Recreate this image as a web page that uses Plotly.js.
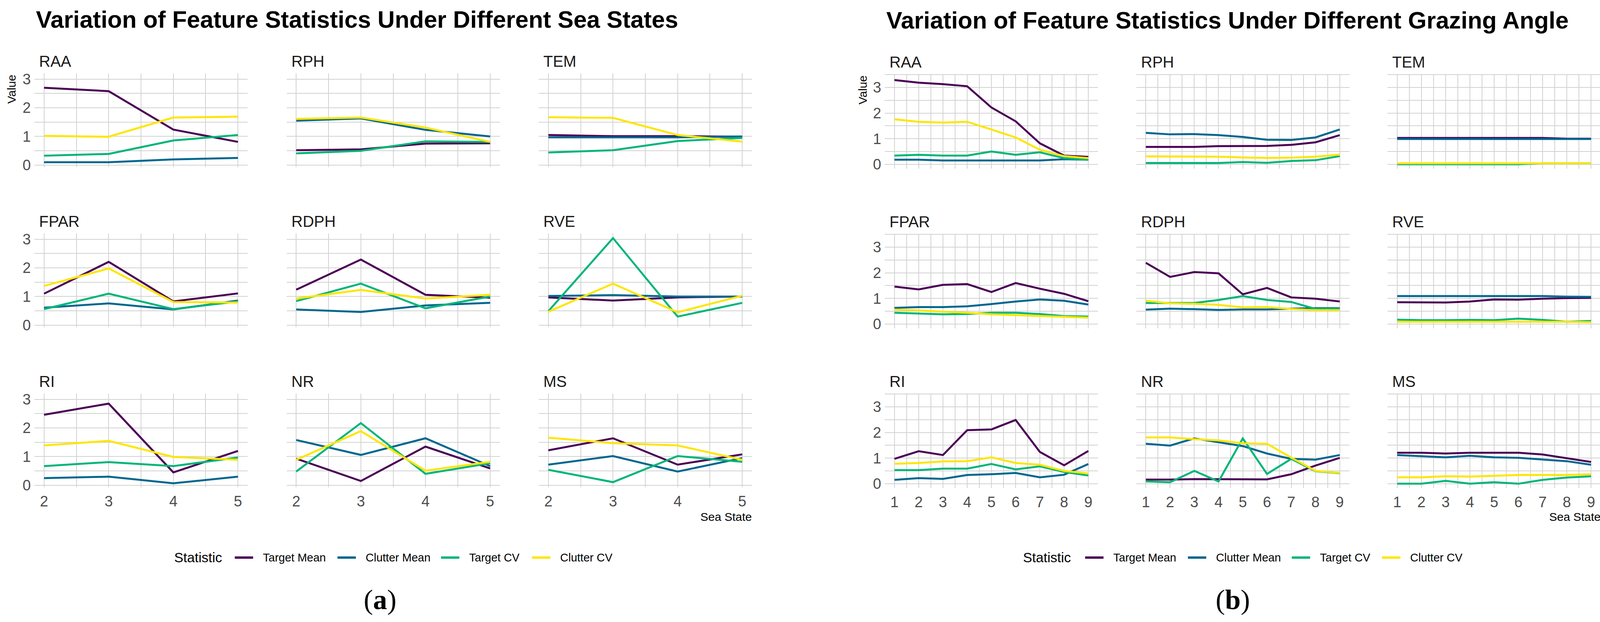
<!DOCTYPE html>
<html>
<head>
<meta charset="utf-8">
<script src="https://cdn.plot.ly/plotly-3.0.1.min.js"></script>
<style>
html,body{margin:0;padding:0;background:#fff;}
#chart{width:4113px;height:1593px;}
</style>
</head>
<body>
<div id="chart"></div>
<script>
// ---------------- DATA ----------------
const seaStates = [2, 3, 4, 5];
const grazingAngles = [1, 2, 3, 4, 5, 6, 7, 8, 9];
const features = ['RAA', 'RPH', 'TEM', 'FPAR', 'RDPH', 'RVE', 'RI', 'NR', 'MS'];
const statistics = ['Target Mean', 'Clutter Mean', 'Target CV', 'Clutter CV'];

// (a) Sea states: rows = Target Mean, Clutter Mean, Target CV, Clutter CV
const seaRAA  = [[2.70, 2.58, 1.24, 0.81], [0.10, 0.10, 0.20, 0.25], [0.33, 0.39, 0.86, 1.05], [1.02, 0.99, 1.66, 1.69]];
const seaRPH  = [[0.52, 0.55, 0.75, 0.76], [1.55, 1.63, 1.23, 1.00], [0.41, 0.50, 0.83, 0.81], [1.61, 1.66, 1.31, 0.81]];
const seaTEM  = [[1.05, 1.01, 1.01, 0.99], [0.97, 0.97, 0.97, 1.00], [0.44, 0.52, 0.84, 0.95], [1.67, 1.65, 1.05, 0.82]];
const seaFPAR = [[1.10, 2.21, 0.83, 1.11], [0.61, 0.76, 0.55, 0.86], [0.56, 1.10, 0.56, 0.83], [1.37, 1.98, 0.81, 0.79]];
const seaRDPH = [[1.24, 2.29, 1.06, 0.96], [0.55, 0.46, 0.69, 0.78], [0.84, 1.45, 0.59, 1.00], [0.93, 1.23, 0.93, 1.06]];
const seaRVE  = [[0.97, 0.86, 0.97, 1.00], [1.02, 1.05, 1.00, 1.00], [0.49, 3.04, 0.30, 0.78], [0.47, 1.45, 0.45, 1.03]];
const seaRI   = [[2.46, 2.85, 0.45, 1.20], [0.25, 0.30, 0.07, 0.30], [0.67, 0.81, 0.67, 0.97], [1.39, 1.55, 0.99, 0.89]];
const seaNR   = [[0.93, 0.15, 1.35, 0.59], [1.58, 1.06, 1.64, 0.67], [0.48, 2.17, 0.40, 0.77], [0.89, 1.89, 0.51, 0.82]];
const seaMS   = [[1.22, 1.64, 0.72, 1.08], [0.72, 1.02, 0.48, 0.95], [0.54, 0.11, 1.02, 0.82], [1.66, 1.47, 1.39, 0.89]];

// (b) Grazing angles
const angRAA  = [[3.29, 3.19, 3.13, 3.05, 2.22, 1.68, 0.82, 0.34, 0.29],
                 [0.18, 0.18, 0.15, 0.15, 0.15, 0.15, 0.15, 0.20, 0.18],
                 [0.34, 0.37, 0.34, 0.34, 0.50, 0.37, 0.47, 0.24, 0.18],
                 [1.76, 1.66, 1.63, 1.66, 1.36, 1.05, 0.57, 0.32, 0.24]];
const angRPH  = [[0.68, 0.68, 0.68, 0.71, 0.72, 0.72, 0.76, 0.86, 1.14],
                 [1.23, 1.17, 1.18, 1.14, 1.07, 0.96, 0.95, 1.05, 1.36],
                 [0.05, 0.05, 0.05, 0.05, 0.09, 0.06, 0.13, 0.16, 0.32],
                 [0.31, 0.31, 0.31, 0.30, 0.27, 0.25, 0.26, 0.30, 0.38]];
const angTEM  = [[1.03, 1.03, 1.03, 1.03, 1.03, 1.03, 1.03, 1.00, 1.00],
                 [0.99, 0.99, 0.99, 0.99, 0.99, 0.99, 0.99, 0.99, 0.99],
                 [0.00, 0.00, 0.00, 0.00, 0.00, 0.00, 0.04, 0.04, 0.04],
                 [0.04, 0.04, 0.04, 0.04, 0.04, 0.04, 0.04, 0.04, 0.04]];
const angFPAR = [[1.46, 1.35, 1.53, 1.56, 1.25, 1.60, 1.38, 1.18, 0.89],
                 [0.63, 0.66, 0.66, 0.69, 0.78, 0.88, 0.96, 0.91, 0.76],
                 [0.44, 0.41, 0.38, 0.39, 0.44, 0.44, 0.39, 0.31, 0.29],
                 [0.56, 0.53, 0.48, 0.44, 0.38, 0.35, 0.32, 0.28, 0.25]];
const angRDPH = [[2.39, 1.84, 2.03, 1.98, 1.16, 1.41, 1.04, 0.99, 0.88],
                 [0.56, 0.60, 0.58, 0.55, 0.57, 0.57, 0.60, 0.62, 0.62],
                 [0.82, 0.82, 0.82, 0.94, 1.09, 0.94, 0.86, 0.59, 0.60],
                 [0.91, 0.81, 0.79, 0.75, 0.65, 0.66, 0.59, 0.54, 0.54]];
const angRVE  = [[0.85, 0.85, 0.84, 0.88, 0.96, 0.95, 0.99, 1.01, 1.02],
                 [1.09, 1.09, 1.09, 1.09, 1.09, 1.09, 1.09, 1.07, 1.06],
                 [0.17, 0.15, 0.15, 0.16, 0.15, 0.21, 0.16, 0.09, 0.12],
                 [0.09, 0.09, 0.09, 0.09, 0.09, 0.09, 0.09, 0.09, 0.07]];
const angRI   = [[0.97, 1.27, 1.12, 2.09, 2.12, 2.49, 1.24, 0.72, 1.28],
                 [0.15, 0.22, 0.19, 0.34, 0.37, 0.42, 0.25, 0.35, 0.77],
                 [0.53, 0.53, 0.59, 0.59, 0.77, 0.56, 0.68, 0.46, 0.32],
                 [0.78, 0.81, 0.87, 0.88, 1.03, 0.81, 0.74, 0.50, 0.40]];
const angNR   = [[0.16, 0.16, 0.18, 0.18, 0.18, 0.17, 0.37, 0.71, 1.01],
                 [1.56, 1.49, 1.77, 1.62, 1.47, 1.18, 0.97, 0.94, 1.12],
                 [0.09, 0.06, 0.50, 0.09, 1.77, 0.38, 0.97, 0.49, 0.41],
                 [1.81, 1.81, 1.74, 1.69, 1.58, 1.56, 1.02, 0.50, 0.42]];
const angMS   = [[1.21, 1.21, 1.18, 1.21, 1.21, 1.21, 1.14, 1.00, 0.85],
                 [1.12, 1.08, 1.03, 1.09, 1.03, 1.01, 0.95, 0.88, 0.74],
                 [0.00, 0.00, 0.11, 0.00, 0.06, 0.00, 0.15, 0.24, 0.29],
                 [0.25, 0.25, 0.29, 0.28, 0.31, 0.34, 0.34, 0.34, 0.37]];

const seaData = [seaRAA, seaRPH, seaTEM, seaFPAR, seaRDPH, seaRVE, seaRI, seaNR, seaMS];
const angData = [angRAA, angRPH, angTEM, angFPAR, angRDPH, angRVE, angRI, angNR, angMS];

const chartTitles = ['Variation of Feature Statistics Under Different Sea States',
                     'Variation of Feature Statistics Under Different Grazing Angle'];
const xAxisTitle = 'Sea State';
const yAxisTitle = 'Value';
const legendTitle = 'Statistic';
const subLabels = ['a', 'b'];

// ---------------- STYLE / GEOMETRY ----------------
const W = 4113, H = 1593;
const colors = ['#4B0055', '#00678F', '#00B578', '#FDE600'];
const FONT = 'Liberation Sans, Arial, sans-serif';
const GRID = '#d2d2d2';

const charts = [
  { x: seaStates, data: seaData, xr: [1.85, 5.15], yr: [-0.07, 3.2],
    cols: [88, 733.5, 1379], rows: [188, 598, 1008], pw: 546, ph: 240 },
  { x: grazingAngles, data: angData, xr: [0.6, 9.4], yr: [-0.17, 3.52],
    cols: [2265, 2908.5, 3552], rows: [190, 599, 1008], pw: 546, ph: 242 }
];

const fx = v => v / W;
const fy = v => 1 - v / H;

const traces = [];
const layout = {
  width: W, height: H,
  margin: { l: 0, r: 0, t: 0, b: 0 },
  paper_bgcolor: '#fff', plot_bgcolor: '#fff',
  showlegend: false,
  font: { family: FONT, color: '#000' },
  annotations: [], shapes: []
};

charts.forEach((ch, c) => {
  features.forEach((feat, p) => {
    const k = c * 9 + p + 1;
    const r = Math.floor(p / 3), col = p % 3;
    const left = ch.cols[col], top = ch.rows[r];
    const xa = 'xaxis' + (k === 1 ? '' : k), ya = 'yaxis' + (k === 1 ? '' : k);
    layout[xa] = {
      domain: [fx(left), fx(left + ch.pw)], anchor: 'y' + (k === 1 ? '' : k),
      range: ch.xr, dtick: 1, tick0: 0, showgrid: true, gridcolor: GRID, gridwidth: 2,
      minor: { dtick: 0.5, tick0: 0, showgrid: true, gridcolor: GRID, gridwidth: 2 },
      zeroline: false, showline: false, ticks: '',
      showticklabels: r === 2, ticklabelstandoff: 10,
      tickfont: { family: FONT, size: 38, color: '#4d4d4d' }, fixedrange: true
    };
    layout[ya] = {
      domain: [fy(top + ch.ph), fy(top)], anchor: 'x' + (k === 1 ? '' : k),
      range: ch.yr, dtick: 1, tick0: 0, showgrid: true, gridcolor: GRID, gridwidth: 2,
      minor: { dtick: 0.5, tick0: 0, showgrid: true, gridcolor: GRID, gridwidth: 2 },
      zeroline: false, showline: false, ticks: '',
      showticklabels: col === 0, ticklabelstandoff: 8,
      tickfont: { family: FONT, size: 38, color: '#4d4d4d' }, fixedrange: true
    };
    ch.data[p].forEach((vals, s) => {
      traces.push({
        type: 'scatter', mode: 'lines', x: ch.x, y: vals, name: statistics[s],
        xaxis: 'x' + (k === 1 ? '' : k), yaxis: 'y' + (k === 1 ? '' : k),
        line: { color: colors[s], width: 5 }, showlegend: false, hoverinfo: 'skip'
      });
    });
    // strip label
    layout.annotations.push({
      text: feat, xref: 'paper', yref: 'paper', x: fx(left + 10), y: fy(top - 31),
      xanchor: 'left', yanchor: 'middle', showarrow: false,
      font: { family: FONT, size: 40, color: '#1a1a1a' }
    });
  });

  const cl = ch.cols[0], cr = ch.cols[2] + ch.pw;
  // chart title
  layout.annotations.push({
    text: '<b>' + chartTitles[c] + '</b>', xref: 'paper', yref: 'paper',
    x: fx(cl + 2), y: fy(c === 0 ? 50 : 52), xanchor: 'left', yanchor: 'middle', showarrow: false,
    font: { family: FONT, size: 61, color: '#000' }
  });
  // y axis title
  layout.annotations.push({
    text: yAxisTitle, xref: 'paper', yref: 'paper', textangle: -90,
    x: fx(c === 0 ? 29 : 2208), y: fy(ch.rows[0] + 1), xanchor: 'center', yanchor: 'top', showarrow: false,
    font: { family: FONT, size: 30, color: '#000' }
  });
  // x axis title
  layout.annotations.push({
    text: xAxisTitle, xref: 'paper', yref: 'paper',
    x: fx(cr + 2), y: fy(1323), xanchor: 'right', yanchor: 'middle', showarrow: false,
    font: { family: FONT, size: 30, color: '#000' }
  });
  // legend
  const legY = 1427;
  const legStart = c === 0 ? 444 : 2617;
  const keyX = c === 0 ? [601, 864, 1129, 1362] : [2778, 3041, 3307, 3538];
  layout.annotations.push({
    text: legendTitle, xref: 'paper', yref: 'paper', x: fx(legStart), y: fy(legY),
    xanchor: 'left', yanchor: 'middle', showarrow: false,
    font: { family: FONT, size: 35, color: '#000' }
  });
  statistics.forEach((st, s) => {
    layout.shapes.push({
      type: 'line', xref: 'paper', yref: 'paper',
      x0: fx(keyX[s]), x1: fx(keyX[s] + 47), y0: fy(legY + 1), y1: fy(legY + 1),
      line: { color: colors[s], width: 6 }
    });
    layout.annotations.push({
      text: st, xref: 'paper', yref: 'paper', x: fx(keyX[s] + 70), y: fy(legY + 1),
      xanchor: 'left', yanchor: 'middle', showarrow: false,
      font: { family: FONT, size: 29, color: '#000' }
    });
  });
  // sub-figure label
  layout.annotations.push({
    text: '(<b>' + subLabels[c] + '</b>)', xref: 'paper', yref: 'paper',
    x: fx(c === 0 ? 973 : 3156), y: fy(1536), xanchor: 'center', yanchor: 'middle', showarrow: false,
    font: { family: 'Liberation Serif, Times New Roman, serif', size: 72, color: '#000' }
  });
});

Plotly.newPlot('chart', traces, layout, { staticPlot: true, displayModeBar: false });
</script>
</body>
</html>
